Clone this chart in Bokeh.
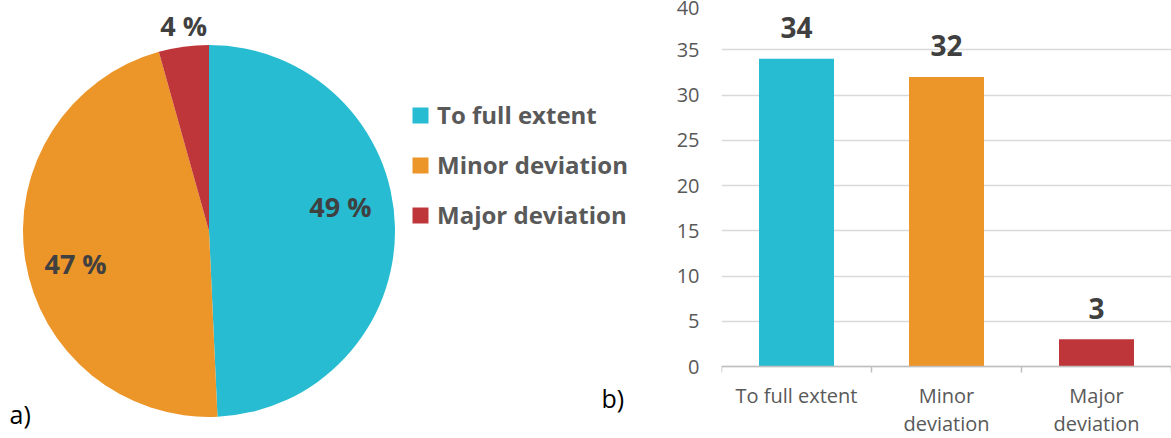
import numpy as np
from bokeh.plotting import figure
from bokeh.models import (ColumnDataSource, Range1d, FactorRange, Legend, LegendItem,
                          Label, LinearAxis, FixedTicker)
from bokeh.layouts import row
from bokeh.core.properties import value
from bokeh.embed import file_html
from bokeh.resources import INLINE

# ---------------- data ----------------
categories = ["To full extent", "Minor deviation", "Major deviation"]
axis_labels = ["To full extent", "Minor\ndeviation", "Major\ndeviation"]
counts = [34, 32, 3]
pie_labels = ["49 %", "47 %", "4 %"]
colors = ["#27BCD1", "#EC9528", "#BE363A"]
y_ticks = [0, 5, 10, 15, 20, 25, 30, 35, 40]

FONT = "Open Sans"
TOTAL_W, H = 1171, 438

# ---------------- left: pie ----------------
W1 = 628
pie = figure(width=W1, height=H, x_range=Range1d(0, W1), y_range=Range1d(0, H),
             output_backend="svg", toolbar_location=None, min_border=0,
             outline_line_color=None, x_axis_type=None, y_axis_type=None)
pie.grid.visible = False

cx, cy, R = 208.5, H - 228.5, 186
vals = np.array(counts, dtype=float)
frac = vals / vals.sum()
cum = np.concatenate([[0.0], np.cumsum(frac)])
start = np.pi / 2 - cum[:-1] * 2 * np.pi
end = np.pi / 2 - cum[1:] * 2 * np.pi
mid = (start + end) / 2
# label placement (style): radial fraction and small angular nudge (degrees, ccw)
label_r = np.array([0.715, 0.745, 1.10]) * R
label_nudge = np.radians([7.5, 6.5, -0.7])
la = mid + label_nudge
src = ColumnDataSource(dict(start=start, end=end, color=colors, cat=categories,
                            lx=cx + label_r * np.cos(la), ly=cy + label_r * np.sin(la),
                            lab=pie_labels))
w = pie.wedge(x=cx, y=cy, radius=R, start_angle="start", end_angle="end",
              direction="clock", fill_color="color", line_color=None, source=src)
pie.text(x="lx", y="ly", text="lab", source=src, text_align="center",
         text_baseline="middle", y_offset=-4, text_font=value(FONT),
         text_font_style="bold", text_font_size="27px", text_color="#404040")

legend = Legend(items=[LegendItem(label=c, renderers=[w], index=i)
                       for i, c in enumerate(categories)],
                location=(410, 207), orientation="vertical",
                glyph_width=20, glyph_height=20, label_height=33, spacing=17,
                padding=0, margin=0, label_standoff=7, border_line_color=None,
                background_fill_alpha=0, label_text_font=FONT,
                label_text_font_style="bold", label_text_font_size="24px",
                label_text_color="#595959")
pie.add_layout(legend)

pie.add_layout(Label(x=9, y=25, text="a)", text_font=FONT, text_font_size="25px",
                     text_color="#000000", text_baseline="alphabetic"))
pie.add_layout(Label(x=601, y=41, text="b)", text_font=FONT, text_font_size="25px",
                     text_color="#000000", text_baseline="alphabetic"))

# ---------------- right: bars ----------------
W2 = TOTAL_W - W1
TOP_PX, PLOT_PX = 4, 362
BELOW_PX = H - TOP_PX - PLOT_PX
y_lo = -y_ticks[-1] * BELOW_PX / PLOT_PX
bar = figure(width=W2, height=H, x_range=FactorRange(*categories, range_padding=0),
             y_range=Range1d(y_lo, y_ticks[-1]), x_axis_type=None,
             output_backend="svg", toolbar_location=None,
             min_border_left=93, min_border_right=0, min_border_top=TOP_PX,
             min_border_bottom=0, outline_line_color=None)

bsrc = ColumnDataSource(dict(cat=categories, count=counts, color=colors,
                             lab=[str(c) for c in counts]))
bar.vbar(x="cat", top="count", width=0.5, fill_color="color", line_color=None, source=bsrc)
bar.text(x="cat", y="count", text="lab", source=bsrc, y_offset=-31,
         text_align="center", text_baseline="alphabetic", text_font=value(FONT),
         text_font_style="bold", text_font_size="28px", text_color="#404040")

bar.xgrid.visible = False
bar.ygrid.grid_line_color = "#D9D9D9"
bar.ygrid.grid_line_width = 1.5

ya = bar.yaxis[0]
ya.ticker = FixedTicker(ticks=y_ticks)
ya.axis_line_color = None
ya.major_tick_line_color = None
ya.minor_tick_line_color = None
ya.major_tick_out = 0
ya.major_tick_in = 0
ya.major_label_standoff = 22
ya.major_label_text_font = FONT
ya.major_label_text_font_size = "20px"
ya.major_label_text_color = "#595959"

n = len(categories)
xa = LinearAxis(ticker=FixedTicker(ticks=[i + 0.5 for i in range(n)],
                                   minor_ticks=list(range(n + 1))),
                fixed_location=0,
                major_label_overrides={i + 0.5: lab for i, lab in enumerate(axis_labels)},
                axis_line_color="#BFBFBF", axis_line_width=1.5,
                major_tick_line_color=None, major_tick_out=0, major_tick_in=0,
                minor_tick_line_color="#BFBFBF", minor_tick_line_width=1.5,
                minor_tick_out=6, minor_tick_in=0,
                major_label_standoff=9, major_label_text_font=FONT,
                major_label_text_font_size="20px", major_label_text_color="#595959",
                major_label_text_line_height=1.06)
bar.add_layout(xa, "below")

layout = row(pie, bar)
open("out.html", "w").write(file_html(layout, INLINE))
